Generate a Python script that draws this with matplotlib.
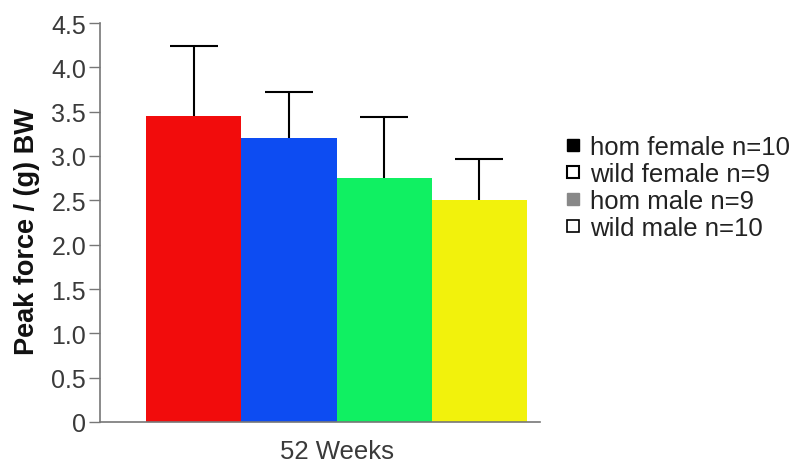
import numpy as np
import matplotlib.pyplot as plt
from matplotlib.lines import Line2D

groups = ["hom female", "wild female", "hom male", "wild male"]
means = [3.45, 3.20, 2.75, 2.50]
sems = [0.79, 0.52, 0.69, 0.47]
bar_colors = ["#f20c0c", "#0d4cf2", "#10f062", "#f2f20c"]
legend_labels = ["hom female n=10", "wild female n=9", "hom male n=9", "wild male n=10"]
yticks = [0, 0.5, 1.0, 1.5, 2.0, 2.5, 3.0, 3.5, 4.0, 4.5]
ytick_labels = ["0", "0.5", "1.0", "1.5", "2.0", "2.5", "3.0", "3.5", "4.0", "4.5"]

plt.rcParams['font.family'] = ['Liberation Sans', 'DejaVu Sans']

fig = plt.figure(figsize=(7.97, 4.64), dpi=100)
ax = fig.add_axes([100/797, 1 - 423/464, 440/797, (423 - 24)/464])

x = np.arange(len(means))
ax.bar(x, means, width=1.0, color=bar_colors, edgecolor="none")
eb = ax.errorbar(x, means, yerr=[np.zeros(len(sems)), sems], fmt="none",
                 ecolor="black", elinewidth=1.5, capsize=17, capthick=1.5)
# upward-only error bars: hide the lower caps
eb[1][0].set_visible(False)

ax.set_xlim(-0.983, 3.636)
ax.set_ylim(0, 4.5)
ax.set_yticks(yticks)
ax.set_yticklabels(ytick_labels, fontsize=18, color="#3a3a3a")
ax.set_xticks([1.5])
ax.set_xticklabels(["52 Weeks"], fontsize=18.5, color="#3a3a3a")
ax.tick_params(axis="x", length=0, pad=12)
ax.tick_params(axis="y", length=8, width=1, color="#777777", pad=2)
for s in ["top", "right"]:
    ax.spines[s].set_visible(False)
for s in ["left", "bottom"]:
    ax.spines[s].set_color("#777777")
    ax.spines[s].set_linewidth(1.2)
ax.set_ylabel("Peak force / (g) BW", fontsize=19.5, fontweight="bold", color="#111111")
ax.yaxis.set_label_coords(-0.137, 0.48)

handles = [
    Line2D([], [], ls="none", marker="s", markersize=9, markerfacecolor="black", markeredgecolor="black"),
    Line2D([], [], ls="none", marker="s", markersize=9, markerfacecolor="white", markeredgecolor="black", markeredgewidth=1.5),
    Line2D([], [], ls="none", marker="s", markersize=9, markerfacecolor="#888888", markeredgecolor="#888888"),
    Line2D([], [], ls="none", marker="s", markersize=8, markerfacecolor="white", markeredgecolor="black", markeredgewidth=1.2),
]
fig.legend(handles, legend_labels, loc="upper left", bbox_to_anchor=(551/797, 1 - 123/464),
           frameon=False, fontsize=18.5, handlelength=0.7, handletextpad=0.3,
           labelspacing=0.12, borderpad=0, labelcolor="#222222")

fig.savefig("out.png", dpi=100)
